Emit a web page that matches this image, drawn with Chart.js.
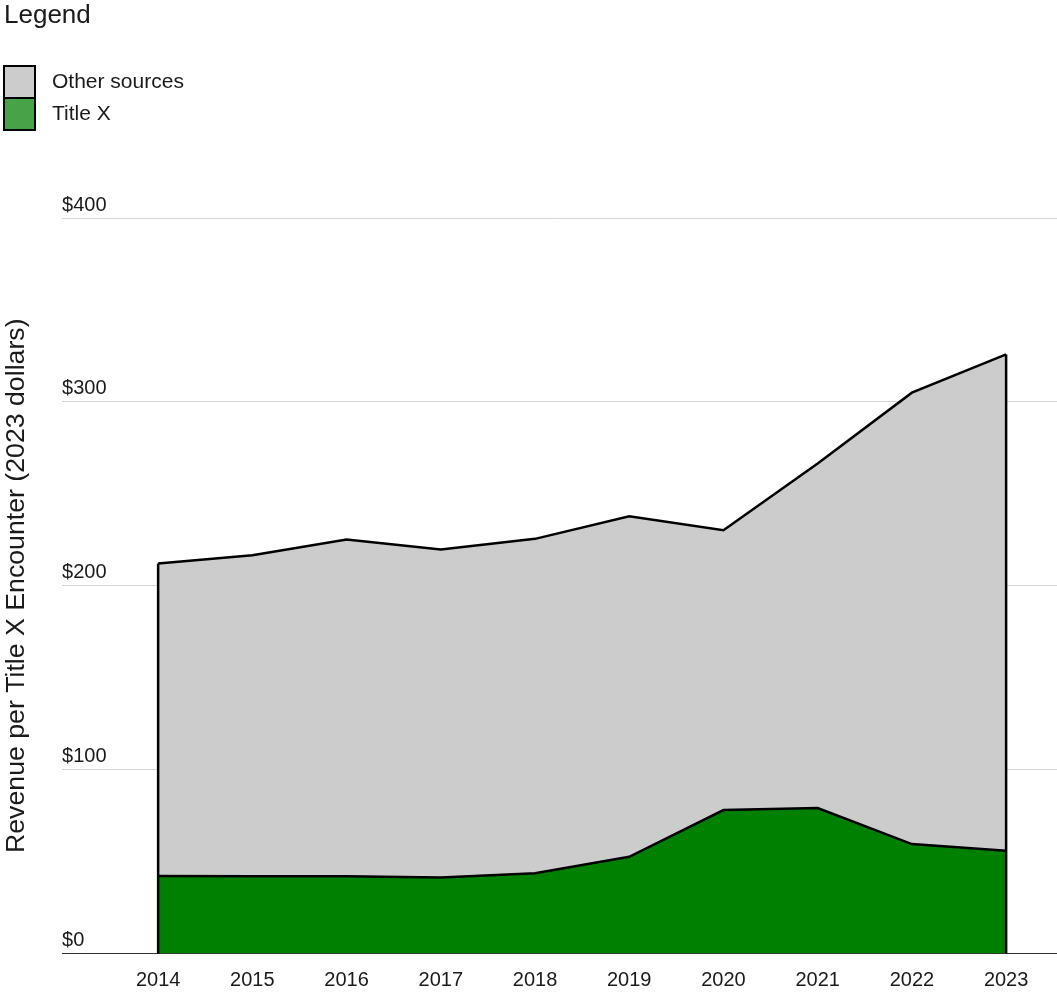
<!DOCTYPE html>
<html>
<head>
<meta charset="utf-8">
<script src="https://cdn.jsdelivr.net/npm/chart.js@4"></script>
<style>
  body { margin: 0; background: #fff; font-family: "Liberation Sans", Arial, sans-serif; color: #1a1a1a; }
  #wrap { position: relative; width: 1057px; height: 993px; }
  #chart { position: absolute; left: 0; top: 0; }
  .legend-title { position: absolute; left: 4px; top: 1px; font-size: 26px; line-height: 26px; }
  .swatch { position: absolute; left: 3px; width: 33px; box-sizing: border-box; border: 2px solid #000; }
  .label { position: absolute; left: 52px; font-size: 21px; line-height: 21px; white-space: nowrap; }
</style>
</head>
<body>
<div id="wrap">
  <canvas id="chart" width="1057" height="993"></canvas>
  <div class="legend-title">Legend</div>
  <div class="swatch" style="top:65px;height:34px;background:#cccccc"></div>
  <div class="swatch" style="top:97px;height:34px;background:#48a348"></div>
  <div class="label" style="top:70px">Other sources</div>
  <div class="label" style="top:102px">Title X</div>
</div>
<script>
// revenue per encounter, 2023 dollars
const years = [2014, 2015, 2016, 2017, 2018, 2019, 2020, 2021, 2022, 2023];
const titleX = [42.1, 42.0, 42.0, 41.4, 43.6, 52.6, 78.0, 79.1, 59.5, 55.9];
const otherSources = [170.0, 174.6, 183.1, 178.3, 181.9, 185.2, 152.2, 187.4, 245.5, 269.9];
const yTicks = [0, 100, 200, 300, 400];

Chart.defaults.font.family = '"Liberation Sans", Arial, sans-serif';
Chart.defaults.color = "#1a1a1a";

const toPoints = (vals) => vals.map((v, i) => ({ x: years[i], y: v }));

// close the stacked area with vertical edges at the first and last year
const edgePlugin = {
  id: "areaEdges",
  afterDatasetsDraw(chart) {
    const topMeta = chart.getDatasetMeta(1);
    const base = chart.scales.y.getPixelForValue(0);
    const ctx = chart.ctx;
    ctx.save();
    ctx.strokeStyle = "#000";
    ctx.lineWidth = 2.5;
    [0, years.length - 1].forEach((i) => {
      const pt = topMeta.data[i];
      ctx.beginPath();
      ctx.moveTo(pt.x, pt.y);
      ctx.lineTo(pt.x, base);
      ctx.stroke();
    });
    ctx.restore();
  },
};

new Chart(document.getElementById("chart"), {
  type: "line",
  data: {
    datasets: [
      {
        label: "Title X",
        data: toPoints(titleX),
        backgroundColor: "#008000",
        borderColor: "#000",
        borderWidth: 2.5,
        fill: "origin",
        pointRadius: 0,
        tension: 0,
      },
      {
        label: "Other sources",
        data: toPoints(otherSources),
        backgroundColor: "#cccccc",
        borderColor: "#000",
        borderWidth: 2.5,
        fill: "-1",
        pointRadius: 0,
        tension: 0,
      },
    ],
  },
  options: {
    responsive: false,
    animation: false,
    layout: { padding: { top: 218, left: 1, right: 0, bottom: -14.5 } },
    plugins: {
      legend: { display: false },
      tooltip: { enabled: false },
    },
    scales: {
      x: {
        type: "linear",
        min: 2012.98,
        max: 2023.54,
        afterBuildTicks: (axis) => {
          axis.ticks = years.map((v) => ({ value: v }));
        },
        grid: { display: false, drawTicks: false },
        border: { display: true, color: "#333", width: 1 },
        ticks: {
          padding: 15,
          maxRotation: 0,
          autoSkip: false,
          font: { size: 20 },
          callback: (v) => String(v),
        },
      },
      y: {
        stacked: true,
        min: 0,
        max: 400,
        afterBuildTicks: (axis) => {
          axis.ticks = yTicks.map((v) => ({ value: v }));
        },
        // mirrored labels sit inside the plot, so no extra edge padding
        afterFit: (axis) => {
          axis.paddingTop = 0;
          axis.paddingBottom = 0;
        },
        border: { display: false },
        grid: {
          drawTicks: false,
          color: (c) => (c.tick && c.tick.value === 0 ? "#333" : "#d4d4d4"),
          lineWidth: 1,
        },
        ticks: {
          mirror: true,
          padding: 0,
          labelOffset: -13,
          font: { size: 20 },
          callback: (v) => "$" + v,
        },
        title: {
          display: true,
          text: "Revenue per Title X Encounter (2023 dollars)",
          font: { size: 26.7 },
          padding: { top: 0, bottom: 29 },
        },
      },
    },
  },
  plugins: [edgePlugin],
});
</script>
</body>
</html>
